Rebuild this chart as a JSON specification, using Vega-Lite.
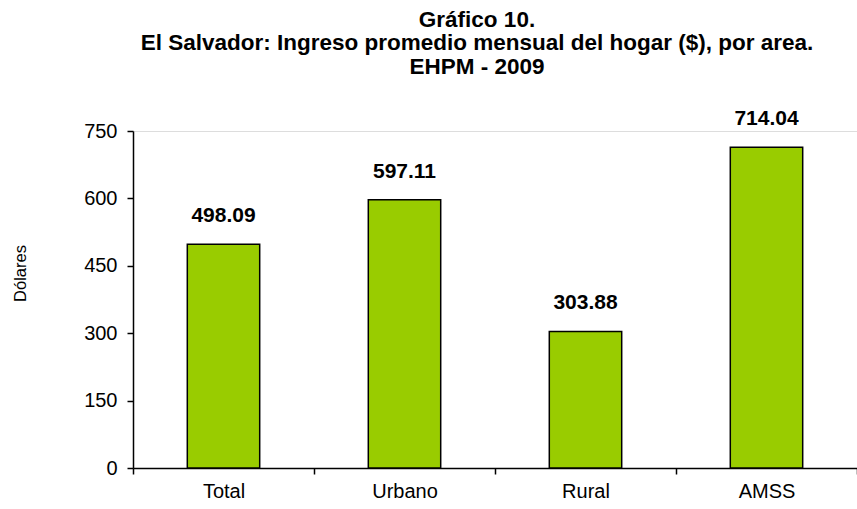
{
  "$schema": "https://vega.github.io/schema/vega-lite/v6.json",
  "autosize": {"type": "none"},
  "width": 724,
  "height": 337,
  "padding": {"left": 133, "top": 131, "right": 0, "bottom": 41},
  "background": "white",
  "title": {
    "text": ["Gráfico 10.", "El Salvador: Ingreso promedio mensual del hogar ($), por area.", "EHPM - 2009"],
    "font": "Liberation Sans",
    "fontSize": 22.5,
    "fontWeight": "bold",
    "color": "black",
    "lineHeight": 23.5,
    "anchor": "middle",
    "dx": -18,
    "offset": 30
  },
  "data": {
    "values": [
      {"area": "Total", "valor": 498.09},
      {"area": "Urbano", "valor": 597.11},
      {"area": "Rural", "valor": 303.88},
      {"area": "AMSS", "valor": 714.04}
    ]
  },
  "encoding": {
    "x": {
      "field": "area",
      "type": "nominal",
      "sort": null,
      "scale": {"paddingInner": 0, "paddingOuter": 0},
      "axis": {
        "title": null,
        "labelAngle": 0,
        "labelFont": "Liberation Sans",
        "labelFontSize": 20,
        "labelColor": "black",
        "labelPadding": 7,
        "tickBand": "extent",
        "tickColor": "black",
        "tickSize": 6,
        "tickWidth": 1.5,
        "domainColor": "black",
        "domainWidth": 1.5
      }
    },
    "y": {
      "field": "valor",
      "type": "quantitative",
      "scale": {"domain": [0, 750], "nice": false},
      "axis": {
        "title": "Dólares",
        "titleFont": "Liberation Sans",
        "titleFontSize": 16.5,
        "titleFontWeight": "normal",
        "titleColor": "black",
        "titleX": -113,
        "titleY": 142,
        "titleBaseline": "middle",
        "titleAlign": "center",
        "values": [0, 150, 300, 450, 600, 750],
        "grid": false,
        "labelFont": "Liberation Sans",
        "labelFontSize": 20,
        "labelColor": "black",
        "labelPadding": 10,
        "tickColor": "black",
        "tickSize": 6,
        "tickWidth": 1.5,
        "domainColor": "black",
        "domainWidth": 1.5
      }
    }
  },
  "layer": [
    {
      "mark": {"type": "bar", "width": {"band": 0.4}, "color": "#99CC00", "stroke": "black", "strokeWidth": 1.5}
    },
    {
      "mark": {"type": "text", "dy": -22, "baseline": "alphabetic", "font": "Liberation Sans", "fontSize": 21, "fontWeight": "bold", "color": "black"},
      "encoding": {"text": {"field": "valor", "type": "quantitative", "format": ".2f"}}
    }
  ]
}
